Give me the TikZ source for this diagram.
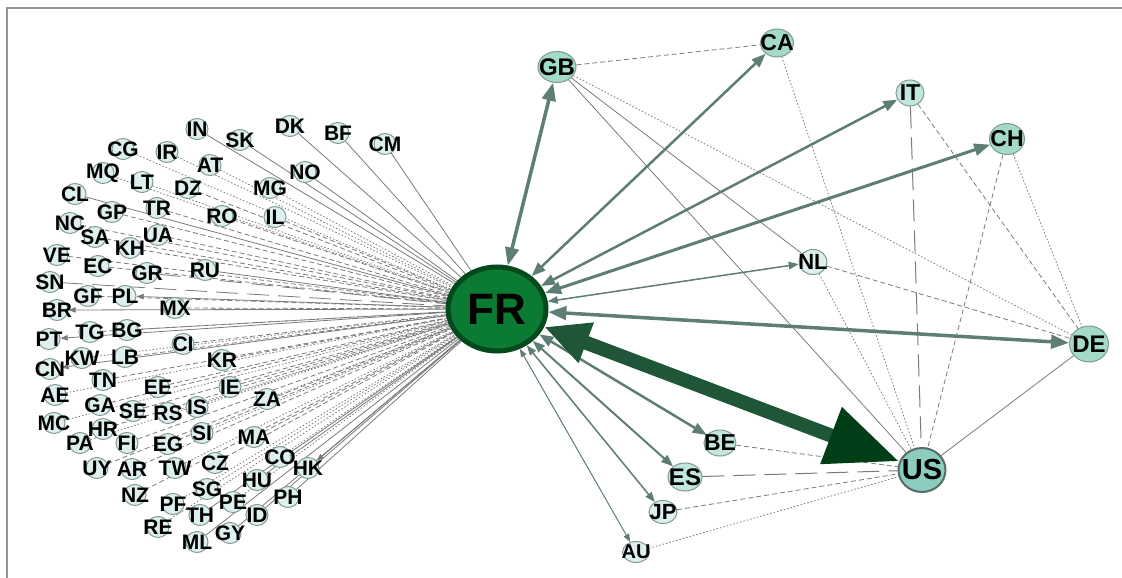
\documentclass[tikz,border=0pt]{standalone}
\usepackage{fontspec}
\setmainfont{Liberation Sans}
\usetikzlibrary{shapes}
\usetikzlibrary{arrows.meta}

\definecolor{gristrait}{HTML}{7A7A7A}
\definecolor{fleche}{HTML}{5E7D74}
\definecolor{frvert}{HTML}{0B7A33}
\definecolor{frbord}{HTML}{024A1C}
\definecolor{usfleche}{HTML}{1E5637}
\definecolor{ustete}{HTML}{003E18}
\definecolor{vif}{HTML}{A3DACA}
\definecolor{moyen}{HTML}{C2E7DE}
\definecolor{clair}{HTML}{DDF0EE}
\definecolor{bord}{HTML}{7E9A93}

\pgfdeclarelayer{fond}
\pgfsetlayers{fond,main}

\begin{document}
\begin{tikzpicture}[x=1pt,y=-1pt,>={Triangle[length=4pt 4,width=3pt 3]}]
\tikzstyle{lien}=[<->,draw=fleche,line width=#1]
\tikzset{pays/.style={ellipse,inner sep=0pt,draw=bord,line width=1pt,fill=#1},
pays/.default={clair},
nom/.style={font=\bfseries\fontsize{#1}{#1}\selectfont,inner sep=0pt,text=black},
nom/.default={21},
gris/.style={draw=gristrait,line width=0.8pt},
tiret/.style={dash pattern=on 5pt off 3pt},
pointille/.style={dash pattern=on 1.5pt off 2pt},
tlong/.style={dash pattern=on 22pt off 9pt},
fil s/.style={gris},
fil d/.style={gris,tiret},
fil p/.style={gris,pointille},
fil l/.style={gris,tlong},
fil a/.style={gris,<-}}
\useasboundingbox (0,0) rectangle (1122,578);
\draw[gray!85,line width=2pt] (7,578) -- (7,8) -- (1122,8);

% le noeud central
\node[ellipse,minimum width=98pt,minimum height=84pt,fill=frvert,draw=frbord,
line width=5pt,label={[nom=44]center:FR}] (FR) at (497,309) {};

% les petits pays, a gauche
\foreach \n/\x/\y/\t in {IN/197/129/s,SK/240/140/s,DK/290/126/s,BF/338/133/s,
CM/385/144/s,CG/123/149/p,IR/167/152/p,AT/210/165/p,NO/305/172/s,
MQ/103/173/p,LT/142/182/p,DZ/188/188/d,MG/270/188/p,CL/75/194/s,
GP/112/212/d,TR/157/208/d,RO/222/216/d,IL/275/217/d,NC/70/223/d,
SA/95/237/d,UA/158/235/d,KH/130/248/d,VE/57/255/d,EC/98/266/d,
GR/147/273/l,RU/205/270/s,SN/50/282/l,GF/88/296/d,PL/125/296/a,
MX/175/308/d,BR/57/310/a,PT/49/339/a,TG/90/332/d,BG/127/330/d,
CI/183/344/d,KW/82/358/p,LB/125/357/d,KR/222/360/d,CN/50/369/a,
TN/103/380/d,EE/158/387/d,IE/230/387/d,AE/55/395/p,GA/100/405/d,
SE/133/411/d,RS/168/413/p,IS/197/407/p,ZA/267/399/p,MC/54/423/p,
HR/103/429/d,SI/202/433/p,PA/80/443/p,FI/127/443/d,EG/168/444/d,
MA/254/437/d,CO/280/457/p,HK/308/468/a,UY/97/468/d,AR/132/469/d,
TW/175/468/p,CZ/215/463/d,HU/257/480/s,NZ/135/495/d,SG/207/489/p,
PF/173/504/p,PE/233/502/p,PH/288/497/s,TH/200/515/s,ID/257/515/s,
RE/158/527/p,GY/230/533/s,ML/197/542/s}
{
\node[pays,minimum width=22pt,minimum height=21pt,label={[nom]center:\n}] (\n) at (\x,\y) {};
\begin{pgfonlayer}{fond}
\draw[fil \t] (\n) -- (FR);
\end{pgfonlayer}
}

% les grands partenaires
\node[pays=vif,minimum width=38pt,minimum height=31pt,label={[nom=24]center:GB}] (GB) at (557,67) {};
\node[pays=vif,minimum width=33pt,minimum height=28pt,label={[nom=23]center:CA}] (CA) at (777,43) {};
\node[pays=moyen,minimum width=28pt,minimum height=26pt,label={[nom=23]center:IT}] (IT) at (910,93) {};
\node[pays=vif,minimum width=35pt,minimum height=31pt,label={[nom=23]center:CH}] (CH) at (1007,139) {};
\node[pays,minimum width=28pt,minimum height=25pt,label={[nom=22]center:NL}] (NL) at (813,262) {};
\node[pays=vif,minimum width=39pt,minimum height=36pt,label={[nom=24]center:DE}] (DE) at (1089,344) {};
\node[pays=vif!85!teal,draw=bord!70!black,line width=2pt,minimum width=47pt,
minimum height=44pt,label={[nom=29]center:US}] (US) at (922,470) {};
\node[pays=moyen,minimum width=32pt,minimum height=26pt,label={[nom=23]center:BE}] (BE) at (720,443) {};
\node[pays=moyen,minimum width=34pt,minimum height=28pt,label={[nom=24]center:ES}] (ES) at (685,477) {};
\node[pays,minimum width=28pt,minimum height=23pt,label={[nom=22]center:JP}] (JP) at (663,512) {};
\node[pays,minimum width=27pt,minimum height=21pt,label={[nom=20]center:AU}] (AU) at (636,552) {};

\begin{pgfonlayer}{fond}
% liens entre partenaires
\draw[gris,tiret] (GB) -- (CA);
\draw[gris] (GB) -- (NL);
\draw[gris,pointille] (GB) -- (DE);
\draw[gris] (GB) -- (US);
\draw[gris,pointille] (CA) -- (US);
\draw[gris,line width=1pt,tlong] (IT) -- (US);
\draw[gris,tiret] (IT) -- (DE);
\draw[gris,tiret] (CH) -- (US);
\draw[gris,pointille] (CH) -- (DE);
\draw[gris,tiret] (NL) -- (DE);
\draw[gris,pointille] (NL) -- (US);
\draw[gris] (US) -- (DE);
\draw[gris,tiret] (BE) -- (US);
\draw[gris,line width=1pt,tlong] (ES) -- (US);
\draw[gris,tiret] (JP) -- (US);
\draw[gris,pointille] (AU) -- (US);
% liens avec FR
\draw[lien=3.5pt] (FR) -- (GB);
\draw[lien=2.5pt] (FR) -- (CA);
\draw[lien=2.5pt] (FR) -- (IT);
\draw[lien=3pt] (FR) -- (CH);
\draw[lien=1.5pt] (FR) -- (NL);
\draw[lien=3.5pt] (FR) -- (DE);
\draw[lien=2.5pt] (FR) -- (BE);
\draw[lien=2pt] (FR) -- (ES);
\draw[lien=1.5pt] (FR) -- (JP);
\draw[lien=1pt] (FR) -- (AU);
\draw[usfleche,line width=14pt,{Triangle[length=45pt,width=40pt]}-{Triangle[length=73pt,width=57pt,color=ustete]}] (FR) -- (US);
\end{pgfonlayer}
\end{tikzpicture}
\end{document}
